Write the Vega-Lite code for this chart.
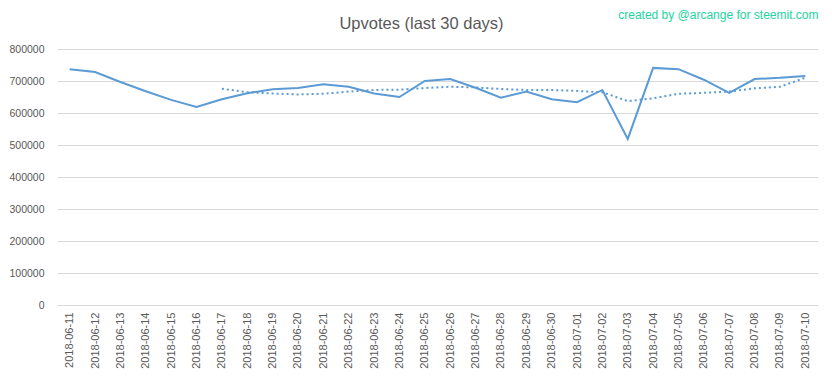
{
  "$schema": "https://vega.github.io/schema/vega-lite/v6.json",
  "width": 761,
  "height": 256,
  "autosize": "none",
  "padding": {"left": 57, "top": 49, "right": 14, "bottom": 74},
  "background": "white",
  "title": {
    "text": "Upvotes (last 30 days)",
    "anchor": "middle",
    "frame": "group",
    "dx": -16,
    "offset": -24,
    "font": "Liberation Sans",
    "fontSize": 16.5,
    "fontWeight": "normal",
    "color": "#595959"
  },
  "data": {
    "values": [
      {"date": "2018-06-11", "upvotes": 737000, "ma7": null},
      {"date": "2018-06-12", "upvotes": 728000, "ma7": null},
      {"date": "2018-06-13", "upvotes": 697000, "ma7": null},
      {"date": "2018-06-14", "upvotes": 668000, "ma7": null},
      {"date": "2018-06-15", "upvotes": 641000, "ma7": null},
      {"date": "2018-06-16", "upvotes": 619000, "ma7": null},
      {"date": "2018-06-17", "upvotes": 643000, "ma7": 676000},
      {"date": "2018-06-18", "upvotes": 662000, "ma7": 665000},
      {"date": "2018-06-19", "upvotes": 674000, "ma7": 661000},
      {"date": "2018-06-20", "upvotes": 678000, "ma7": 658000},
      {"date": "2018-06-21", "upvotes": 690000, "ma7": 660000},
      {"date": "2018-06-22", "upvotes": 682000, "ma7": 667000},
      {"date": "2018-06-23", "upvotes": 661000, "ma7": 672000},
      {"date": "2018-06-24", "upvotes": 650000, "ma7": 673000},
      {"date": "2018-06-25", "upvotes": 700000, "ma7": 678000},
      {"date": "2018-06-26", "upvotes": 706000, "ma7": 682000},
      {"date": "2018-06-27", "upvotes": 679000, "ma7": 680000},
      {"date": "2018-06-28", "upvotes": 648000, "ma7": 675000},
      {"date": "2018-06-29", "upvotes": 667000, "ma7": 672000},
      {"date": "2018-06-30", "upvotes": 643000, "ma7": 672000},
      {"date": "2018-07-01", "upvotes": 634000, "ma7": 669000},
      {"date": "2018-07-02", "upvotes": 672000, "ma7": 665000},
      {"date": "2018-07-03", "upvotes": 519000, "ma7": 637000},
      {"date": "2018-07-04", "upvotes": 741000, "ma7": 646000},
      {"date": "2018-07-05", "upvotes": 737000, "ma7": 660000},
      {"date": "2018-07-06", "upvotes": 704000, "ma7": 663000},
      {"date": "2018-07-07", "upvotes": 663000, "ma7": 667000},
      {"date": "2018-07-08", "upvotes": 706000, "ma7": 677000},
      {"date": "2018-07-09", "upvotes": 710000, "ma7": 682000},
      {"date": "2018-07-10", "upvotes": 716000, "ma7": 710000}
    ]
  },
  "transform": [
    {"fold": ["upvotes", "ma7"], "as": ["series", "value"]},
    {"filter": "isValid(datum.value)"}
  ],
  "encoding": {
    "y": {
      "field": "value",
      "type": "quantitative",
      "scale": {"domain": [0, 800000], "nice": false},
      "axis": {
        "title": null,
        "tickCount": 8,
        "labelOverlap": false,
        "format": "d",
        "labelFont": "Liberation Sans",
        "labelFontSize": 10.5,
        "labelColor": "#595959",
        "labelPadding": 13,
        "ticks": false,
        "domain": false,
        "grid": true,
        "gridColor": "#d9d9d9"
      }
    }
  },
  "layer": [
    {
      "transform": [{"filter": "datum.series == 'upvotes'"}],
      "mark": {"type": "line", "color": "#5b9bd5", "strokeWidth": 2},
      "encoding": {
        "x": {
          "field": "date",
          "type": "ordinal",
          "scale": {"type": "point", "padding": 0.5},
          "axis": {
            "orient": "bottom",
            "title": null,
            "labelAngle": -90,
            "labelFont": "Liberation Sans",
            "labelFontSize": 11,
            "labelColor": "#595959",
            "labelPadding": 7,
            "ticks": false,
            "domain": true,
            "domainColor": "#d9d9d9",
            "grid": false
          }
        }
      }
    },
    {
      "transform": [{"filter": "datum.series == 'ma7'"}],
      "mark": {"type": "line", "color": "#5b9bd5", "strokeWidth": 2, "strokeDash": [2, 3]},
      "encoding": {
        "x": {
          "field": "date",
          "type": "ordinal",
          "axis": {
            "orient": "top",
            "title": "created by @arcange for steemit.com",
            "titleAnchor": "end",
            "titleFont": "Liberation Sans",
            "titleFontSize": 12,
            "titleFontWeight": "normal",
            "titleColor": "#22d4a0",
            "titlePadding": 28,
            "labels": false,
            "ticks": false,
            "domain": false,
            "grid": false
          }
        }
      }
    }
  ],
  "resolve": {"axis": {"x": "independent"}},
  "config": {"view": {"stroke": null}, "axisQuantitative": {"tickCount": 8}}
}
